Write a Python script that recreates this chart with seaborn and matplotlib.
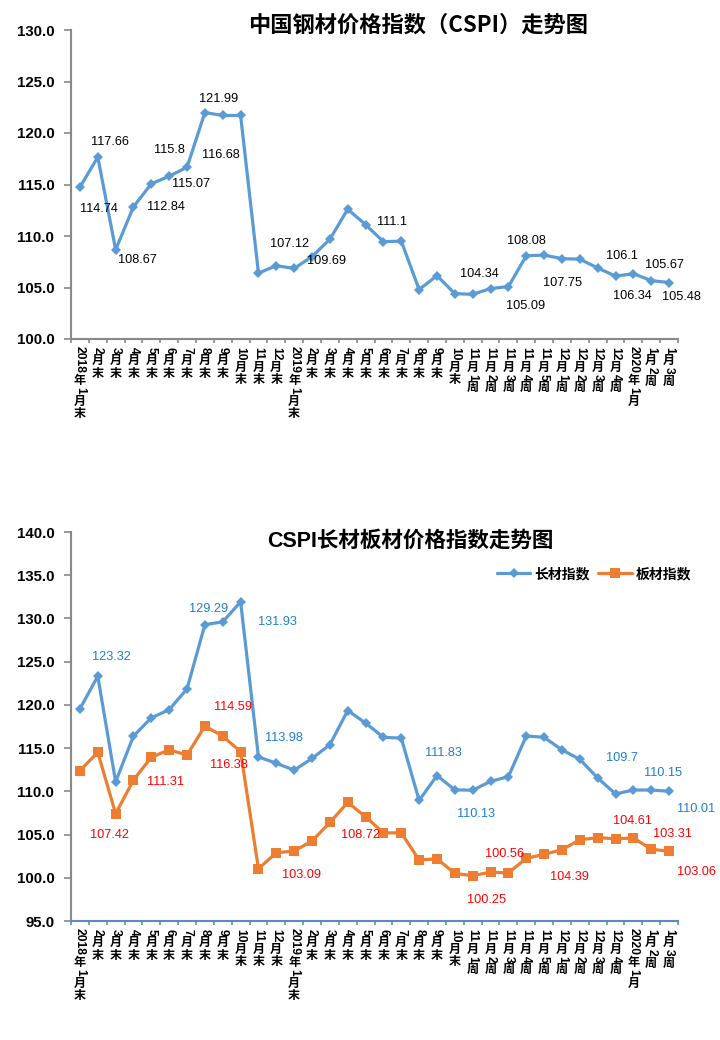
import re
import matplotlib
matplotlib.use("Agg")
import matplotlib.pyplot as plt
import seaborn as sns

# category labels (x axis)
categories = (
    ["2018年1月末"] + [f"{m}月末" for m in range(2, 13)]
    + ["2019年1月末"] + [f"{m}月末" for m in range(2, 11)]
    + [f"11月{w}周" for w in range(1, 6)]
    + [f"12月{w}周" for w in range(1, 5)]
    + ["2020年1月", "1月2周", "1月3周"]
)

# CSPI composite index
cspi = [114.74, 117.66, 108.67, 112.84, 115.07, 115.8, 116.68, 121.99, 121.7, 121.7,
        106.4, 107.12, 106.85, 108.0, 109.69, 112.6, 111.1, 109.45, 109.5, 104.8,
        106.15, 104.4, 104.34, 104.9, 105.09, 108.08, 108.15, 107.8, 107.75, 106.9,
        106.1, 106.34, 105.67, 105.48]

# long products index
long_idx = [119.55, 123.32, 111.1, 116.4, 118.5, 119.45, 121.85, 129.29, 129.6, 131.93,
            113.98, 113.25, 112.45, 113.8, 115.4, 119.35, 117.9, 116.25, 116.15, 108.95,
            111.83, 110.17, 110.13, 111.15, 111.7, 116.4, 116.25, 114.8, 113.7, 111.55,
            109.7, 110.15, 110.15, 110.01]

# flat products index
flat_idx = [112.4, 114.5, 107.42, 111.31, 113.95, 114.8, 114.2, 117.55, 116.38, 114.59,
            101.05, 102.9, 103.09, 104.25, 106.4, 108.72, 107.05, 105.2, 105.2, 102.05,
            102.2, 100.5, 100.25, 100.65, 100.56, 102.25, 102.7, 103.25, 104.39, 104.65,
            104.5, 104.61, 103.31, 103.06]

BLUE = "#5B9BD5"
ORANGE = "#ED7D31"
GREY = "#898989"

sns.set_theme(style="white")
plt.rcParams["font.family"] = ["Liberation Sans", "Noto Sans CJK SC"]
plt.rcParams["text.color"] = "black"
plt.rcParams["ytick.labelcolor"] = "black"

fig = plt.figure(figsize=(7.2, 10.4), dpi=100)
ax1 = fig.add_axes([71 / 720, 1 - 339 / 1040, 607 / 720, 309 / 1040])
ax2 = fig.add_axes([71 / 720, 1 - 921 / 1040, 607 / 720, 389 / 1040])

xs = list(range(len(categories)))


def stacked_label(ax, x, text, top_pt=5.5, size=8.7):
    """Excel-like vertical label: CJK upright, digit groups turned sideways."""
    cursor = top_pt
    for run in re.findall(r"\d+|\D", text):
        if run.isdigit():
            h = len(run) * 4.8
            ax.annotate(run, xy=(x, 0), xycoords=ax.get_xaxis_transform(),
                        xytext=(0, -(cursor + h / 2)), textcoords="offset points",
                        rotation=-90, ha="center", va="center", fontsize=size,
                        fontweight="bold", family="Liberation Sans", color="black")
            cursor += h + 0.9
        else:
            h = 8.9
            ax.annotate(run, xy=(x, 0), xycoords=ax.get_xaxis_transform(),
                        xytext=(0, -(cursor + h / 2)), textcoords="offset points",
                        ha="center", va="center", fontsize=size,
                        fontweight="bold", family="Noto Sans CJK SC", color="black")
            cursor += h


def style_axes(ax, ymin, ymax, xcolor):
    ax.set_xlim(-0.5, len(categories) - 0.5)
    ax.set_ylim(ymin, ymax)
    ax.set_yticks(range(ymin, ymax + 1, 5))
    ax.set_yticklabels([f"{v:.1f}" for v in range(ymin, ymax + 1, 5)],
                       fontsize=10.8, fontweight="bold", family="Liberation Sans")
    ax.set_xticks([i - 0.5 for i in range(len(categories) + 1)])
    ax.set_xticklabels([])
    for s in ["top", "right"]:
        ax.spines[s].set_visible(False)
    ax.spines["left"].set_color(GREY)
    ax.spines["left"].set_linewidth(1.5)
    ax.spines["bottom"].set_color(xcolor)
    ax.spines["bottom"].set_linewidth(1.5)
    ax.tick_params(axis="y", direction="out", length=5, width=1.2, color=GREY, pad=7, left=True)
    ax.tick_params(axis="x", direction="out", length=3, width=1.2, color=xcolor, bottom=True)
    ax.set_xlabel("")
    ax.set_ylabel("")
    ax.grid(False)
    for i, c in enumerate(categories):
        stacked_label(ax, i, c)


def put_labels(ax, values, offsets, color):
    for i, (dx, dy) in offsets.items():
        ax.annotate(f"{values[i]:g}", xy=(i, values[i]), xytext=(dx * 0.72, -dy * 0.72),
                    textcoords="offset points", ha="center", va="center",
                    fontsize=9.2, color=color, family="Liberation Sans")


# ---- top chart: CSPI ----
sns.lineplot(x=xs, y=cspi, ax=ax1, color=BLUE, linewidth=2.3, marker="D",
             markersize=5.5, markeredgewidth=0, markerfacecolor=BLUE)
style_axes(ax1, 100, 130, GREY)
put_labels(ax1, cspi, {
    0: (19, 22), 1: (12, -15), 2: (22, 10), 3: (32, 0), 4: (40, 0), 5: (0, -26),
    6: (34, -12), 7: (14, -14), 11: (13, -22), 14: (-3, 22), 16: (26, -3),
    22: (7, -20), 24: (17, 19), 25: (0, -15), 28: (-17, 24), 30: (6, -20),
    31: (-1, 22), 32: (13, -16), 33: (12, 14),
}, "black")
fig.text(418 / 720, 1 - 25 / 1040, "中国钢材价格指数（CSPI）走势图", ha="center", va="center",
         fontsize=16, fontweight="bold", family=["Noto Sans CJK SC"], color="black")

# ---- bottom chart: long vs flat ----
sns.lineplot(x=xs, y=long_idx, ax=ax2, color=BLUE, linewidth=2.3, marker="D",
             markersize=5.5, markeredgewidth=0, markerfacecolor=BLUE, label="长材指数")
sns.lineplot(x=xs, y=flat_idx, ax=ax2, color=ORANGE, linewidth=2.3, marker="s",
             markersize=6.5, markeredgewidth=0, markerfacecolor=ORANGE, label="板材指数")
style_axes(ax2, 95, 140, "#5B8BC6")
put_labels(ax2, long_idx, {
    1: (14, -19), 7: (4, -16), 9: (37, 20), 10: (25, -19), 20: (6, -23),
    22: (3, 24), 30: (6, -36), 32: (12, -17), 33: (27, 18),
}, "#1F7FD0")
put_labels(ax2, flat_idx, {
    2: (-6, 21), 3: (32, 2), 8: (6, 29), 9: (-8, -45), 12: (7, 24), 15: (13, 33),
    22: (14, 24), 24: (-4, -19), 28: (-10, 37), 31: (-1, -17), 32: (21, -15),
    33: (27, 21),
}, "#FF0000")
leg = ax2.legend(loc="center right", bbox_to_anchor=((697 - 71) / 607, 1 - (574 - 532) / 389),
                 ncol=2, frameon=False, handlelength=2.4, columnspacing=0.6,
                 handletextpad=0.3, borderaxespad=0,
                 prop={"family": "Noto Sans CJK SC", "weight": "bold", "size": 10})
fig.text(410 / 720, 1 - 541 / 1040, "CSPI长材板材价格指数走势图", ha="center", va="center",
         fontsize=15.5, fontweight="bold", family=["Liberation Sans", "Noto Sans CJK SC"],
         color="black")

fig.savefig("out.png", dpi=100)
